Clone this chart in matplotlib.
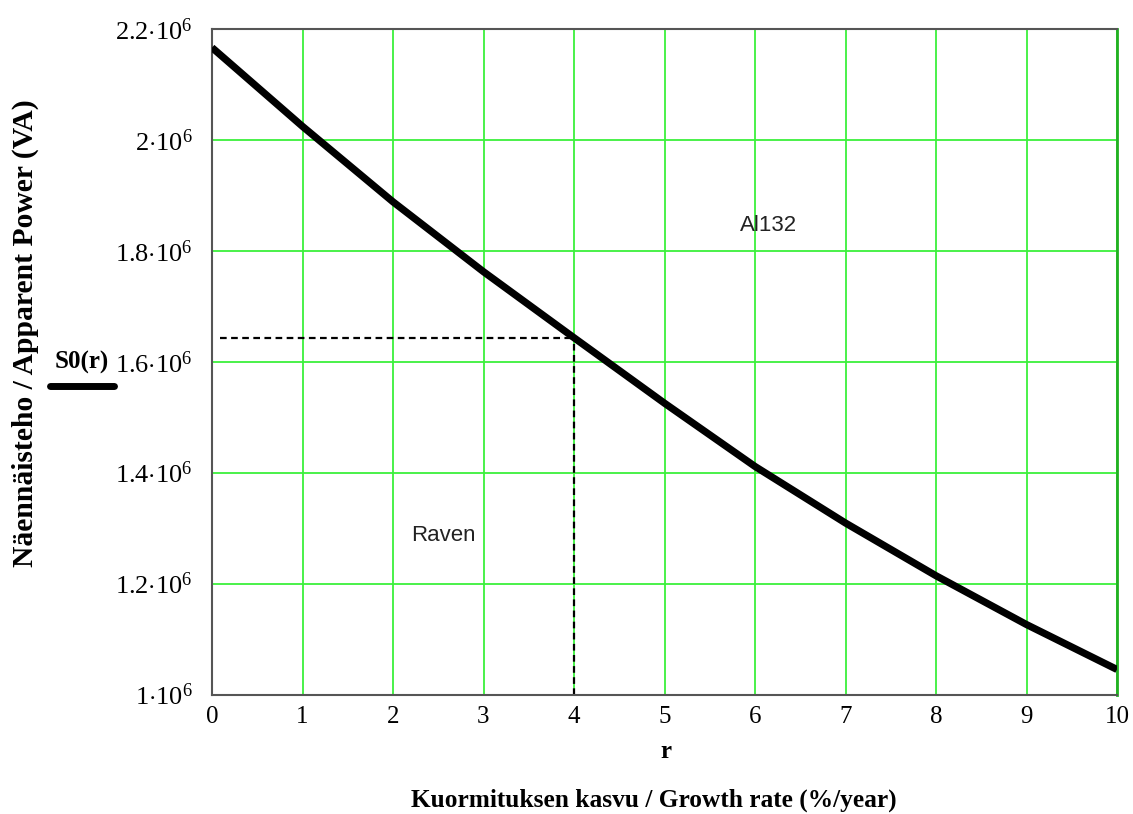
import numpy as np
import matplotlib
matplotlib.use('Agg')
import matplotlib.pyplot as plt
from matplotlib.lines import Line2D

# data
r_vals = [0, 1, 2, 3, 4, 5, 6, 7, 8, 9, 10]
s0_vals = [2.167e6, 2.025e6, 1.889e6, 1.763e6, 1.644e6, 1.526e6,
           1.412e6, 1.310e6, 1.215e6, 1.127e6, 1.046e6]
r_mark = 4
s_mark = 1.644e6
x_ticks = [0, 1, 2, 3, 4, 5, 6, 7, 8, 9, 10]
y_ticks = [1.0e6, 1.2e6, 1.4e6, 1.6e6, 1.8e6, 2.0e6, 2.2e6]
y_ticklabels = [r'$1{\cdot}10^{6}$', r'$1.2{\cdot}10^{6}$', r'$1.4{\cdot}10^{6}$',
                r'$1.6{\cdot}10^{6}$', r'$1.8{\cdot}10^{6}$', r'$2{\cdot}10^{6}$',
                r'$2.2{\cdot}10^{6}$']

plt.rcParams['mathtext.fontset'] = 'custom'
plt.rcParams['mathtext.rm'] = 'Liberation Serif'
plt.rcParams['mathtext.it'] = 'Liberation Serif:italic'
plt.rcParams['mathtext.bf'] = 'Liberation Serif:bold'

fig = plt.figure(figsize=(11.33, 8.14), dpi=100)
ax = fig.add_axes([212/1133, 1-695/814, (1117-212)/1133, (695-29.3)/814])

grid_green = '#3cf03c'
ax.set_xlim(0, 10)
ax.set_ylim(1.0e6, 2.2e6)
ax.set_xticks(x_ticks)
ax.set_yticks(y_ticks)
ax.set_xticklabels([str(t) for t in x_ticks], fontfamily='Liberation Serif', fontsize=18)
ax.set_yticklabels(y_ticklabels, fontsize=19)
ax.tick_params(axis='y', length=0, pad=14)
ax.tick_params(axis='x', length=0, pad=8)
ax.grid(True, color=grid_green, lw=1.3)
ax.set_axisbelow(True)
for side in ['left', 'top', 'bottom']:
    ax.spines[side].set_color('#555555')
    ax.spines[side].set_linewidth(1.5)
ax.spines['right'].set_color('#22b022')
ax.spines['right'].set_linewidth(2)

# curve and the marker lines
ax.plot(r_vals, s0_vals, color='black', lw=5.2, solid_capstyle='butt',
        solid_joinstyle='round', zorder=3)
ax.plot([0.09, r_mark], [s_mark, s_mark], color='black', lw=1.6, dashes=(3, 2), zorder=2)
ax.plot([r_mark, r_mark], [1.0e6, s_mark - 0.012e6], color='black', lw=1.6, dashes=(3, 2), zorder=2)

ax.text(5.83, 1.846e6, 'Al132', fontfamily='Liberation Sans', fontsize=16,
        color='#222222', ha='left', va='center')
ax.text(2.20, 1.287e6, 'Raven', fontfamily='Liberation Sans', fontsize=16,
        color='#222222', ha='left', va='center')

serif_bold = dict(fontfamily='Liberation Serif', fontweight='bold', color='black')
fig.text(666/1133, 1-752/814, 'r', fontsize=18, ha='center', va='center', **serif_bold)
fig.text(654/1133, 1-800/814, 'Kuormituksen kasvu / Growth rate (%/year)',
         fontsize=18.3, ha='center', va='center', **serif_bold)
fig.text(25/1133, 1-333/814, 'Näennäisteho / Apparent Power (VA)', rotation=90,
         fontsize=21.3, ha='center', va='center', **serif_bold)
fig.text(82/1133, 1-362/814, 'S0(r)', fontsize=18, ha='center', va='center', **serif_bold)
fig.add_artist(Line2D([50/1133, 114/1133], [1-386/814, 1-386/814], color='black',
                      lw=5, solid_capstyle='round'))

fig.savefig('out.png', dpi=100)
